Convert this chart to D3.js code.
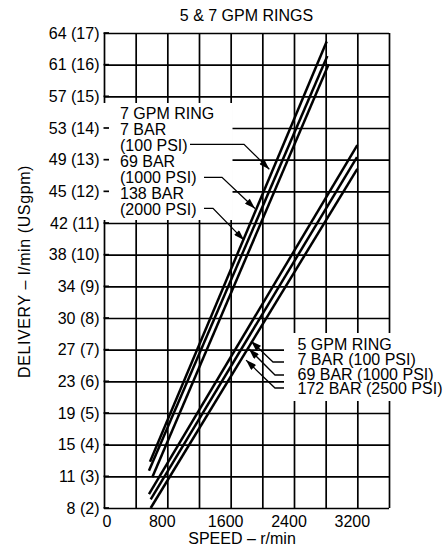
<!DOCTYPE html>
<html>
<head>
<meta charset="utf-8">
<script src="https://cdn.jsdelivr.net/npm/d3@7"></script>
<style>
  body { margin: 0; background: #fff; }
  svg text { font-family: "Liberation Sans", Arial, Helvetica, sans-serif; fill: #000; }
</style>
</head>
<body>
<svg id="chart" width="448" height="548"></svg>
<script>
// ---------------- DATA ----------------
const chartTitle = "5 & 7 GPM RINGS";
const xTitle = "SPEED \u2013 r/min";
const yTitle = "DELIVERY \u2013 l/min (USgpm)";

const xGridValues = [0, 400, 800, 1200, 1600, 2000, 2400, 2800, 3200, 3600];
const xTickValues = [0, 800, 1600, 2400, 3200];
const yTickValues = [2, 3, 4, 5, 6, 7, 8, 9, 10, 11, 12, 13, 14, 15, 16, 17];
const yTickLabels = ["8 (2)", "11 (3)", "15 (4)", "19 (5)", "23 (6)", "27 (7)", "30 (8)", "34 (9)",
                     "38 (10)", "42 (11)", "45 (12)", "49 (13)", "53 (14)", "57 (15)", "61 (16)", "64 (17)"];

// 7 GPM ring: [speed r/min, delivery USgpm]
const ring7_7bar   = [[581, 3.46], [2813, 16.73]];
const ring7_69bar  = [[568, 3.18], [2821, 16.27]];
const ring7_138bar = [[610, 2.97], [2838, 16.01]];
// 5 GPM ring
const ring5_7bar   = [[568, 2.44], [3200, 13.46]];
const ring5_69bar  = [[590, 2.27], [3196, 13.08]];
const ring5_172bar = [[590, 2.00], [3200, 12.71]];

const ring7Labels = ["7 GPM RING", "7 BAR", "(100 PSI)", "69 BAR", "(1000 PSI)", "138 BAR", "(2000 PSI)"];
const ring5Labels = ["5 GPM RING", "7 BAR (100 PSI)", "69 BAR (1000 PSI)", "172 BAR (2500 PSI)"];

// arrow targets (speed, delivery)
const ring7ArrowTips = [[2088, 12.70], [1907, 11.46], [1768, 10.46]];
const ring5ArrowTips = [[1857, 7.27], [1832, 7.02], [1794, 6.67]];

// ---------------- LAYOUT ----------------
const svg = d3.select("#chart");
const L = 104, R = 389, T = 33, B = 508;
const x = d3.scaleLinear().domain([0, 3600]).range([L, R]);
const y = d3.scaleLinear().domain([2, 17]).range([B, T]);
const FS = 16;

// grid
svg.append("g").attr("transform", `translate(0,${B})`)
  .call(d3.axisBottom(x).tickValues(xGridValues).tickSize(-(B - T)).tickFormat(""))
  .call(g => g.select(".domain").remove())
  .call(g => g.selectAll("line").attr("stroke", "#000").attr("stroke-width", 1.7));
svg.append("g").attr("transform", `translate(${L},0)`)
  .call(d3.axisLeft(y).tickValues(yTickValues).tickSize(-(R - L)).tickFormat(""))
  .call(g => g.select(".domain").remove())
  .call(g => g.selectAll("line").attr("stroke", "#000").attr("stroke-width", 1.7));

// white label boxes
svg.append("rect").attr("x", 103).attr("y", 103).attr("width", 129.5).attr("height", 117).attr("fill", "#fff");
svg.append("rect").attr("x", 284).attr("y", 333).attr("width", 164).attr("height", 68).attr("fill", "#fff");

// y tick stubs
svg.append("g").selectAll("line").data(yTickValues).join("line")
  .attr("x1", L - 0.5).attr("x2", L + 5)
  .attr("y1", d => y(d)).attr("y2", d => y(d))
  .attr("stroke", "#000").attr("stroke-width", 1.7);

// data lines
const line = d3.line().x(d => x(d[0])).y(d => y(d[1]));
const series = [ring7_7bar, ring7_69bar, ring7_138bar, ring5_7bar, ring5_69bar, ring5_172bar];
svg.append("g").selectAll("path").data(series).join("path")
  .attr("d", line).attr("fill", "none").attr("stroke", "#000").attr("stroke-width", 2.5);

// arrow marker
svg.append("defs").append("marker")
  .attr("id", "arr").attr("viewBox", "0 0 12 8").attr("refX", 12).attr("refY", 4)
  .attr("markerWidth", 13).attr("markerHeight", 7).attr("markerUnits", "userSpaceOnUse")
  .attr("orient", "auto")
  .append("path").attr("d", "M0,0 L12,4 L0,8 Z").attr("fill", "#000");

// 7 GPM label block
const lx7 = 120, ly7 = 118.5, step7 = 16;
svg.append("g").selectAll("text").data(ring7Labels).join("text")
  .attr("x", lx7).attr("y", (d, i) => ly7 + i * step7)
  .attr("font-size", FS).text(d => d);

const leader7 = [[190, 244, 144.3], [204, 222, 177.3], [204, 213, 208.3]];
svg.append("g").selectAll("path").data(leader7).join("path")
  .attr("d", (d, i) => `M${d[0]},${d[2]} L${d[1]},${d[2]} L${x(ring7ArrowTips[i][0])},${y(ring7ArrowTips[i][1])}`)
  .attr("fill", "none").attr("stroke", "#000").attr("stroke-width", 1.3)
  .attr("marker-end", "url(#arr)");

// 5 GPM label block
const lx5 = 297.5, ly5 = 350, step5 = 14.8;
svg.append("g").selectAll("text").data(ring5Labels).join("text")
  .attr("x", lx5).attr("y", (d, i) => ly5 + i * step5)
  .attr("font-size", FS).text(d => d);

const leader5 = [[284, 273, 362], [284, 275, 375], [284, 275, 388]];
svg.append("g").selectAll("path").data(leader5).join("path")
  .attr("d", (d, i) => `M${d[0]},${d[2]} L${d[1]},${d[2]} L${x(ring5ArrowTips[i][0])},${y(ring5ArrowTips[i][1])}`)
  .attr("fill", "none").attr("stroke", "#000").attr("stroke-width", 1.3)
  .attr("marker-end", "url(#arr)");

// axis tick labels
svg.append("g").selectAll("text").data(yTickValues).join("text")
  .attr("x", 99.5).attr("y", d => y(d) + 5.5).attr("text-anchor", "end")
  .attr("font-size", FS).text((d, i) => yTickLabels[i]);

svg.append("g").selectAll("text").data(xTickValues).join("text")
  .attr("x", d => x(d) + (d === 0 ? 3 : -5)).attr("y", 527.3).attr("text-anchor", "middle")
  .attr("font-size", FS).text(d => d);

// titles
svg.append("text").attr("x", (L + R) / 2).attr("y", 20.7).attr("text-anchor", "middle")
  .attr("font-size", FS).text(chartTitle);
svg.append("text").attr("x", 242).attr("y", 544).attr("text-anchor", "middle")
  .attr("font-size", FS).text(xTitle);
svg.append("text").attr("transform", "translate(29.5,271.5) rotate(-90)").attr("text-anchor", "middle")
  .attr("font-size", FS).attr("letter-spacing", 0.6).text(yTitle);
</script>
</body>
</html>
